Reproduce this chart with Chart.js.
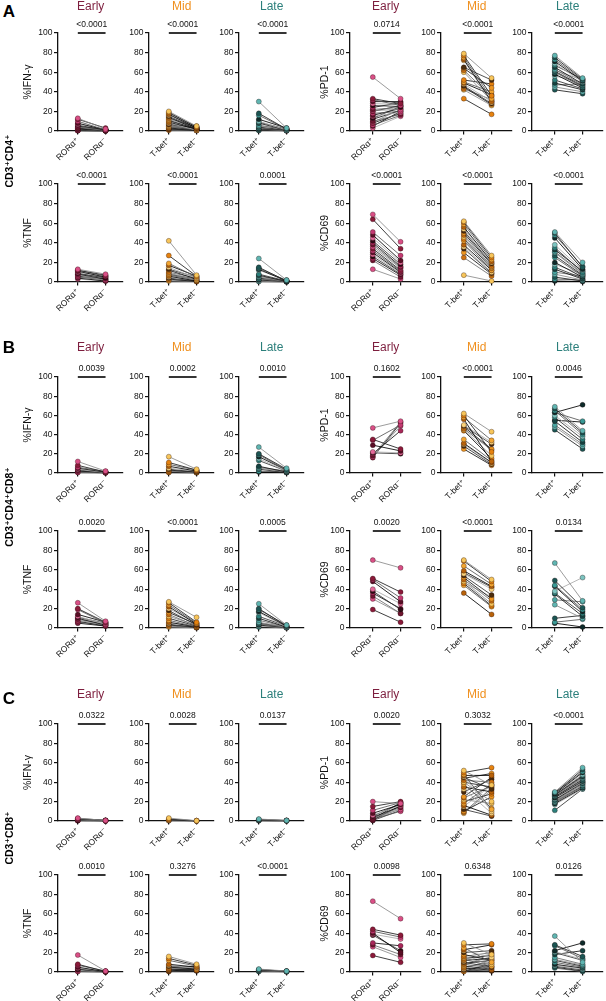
<!DOCTYPE html>
<html>
<head>
<meta charset="utf-8">
<script src="https://cdn.jsdelivr.net/npm/chart.js@4.4.1/dist/chart.umd.min.js"></script>
<style>
  body { margin: 0; background: #fff; }
  #fig { position: relative; width: 606px; height: 1001px; overflow: hidden; font-family: "Liberation Sans", Arial, "DejaVu Sans", sans-serif; color: #000; }
  #fig canvas { position: absolute; }
  .sec { position: absolute; font-weight: bold; font-size: 17px; transform: translate(-50%, -50%); }
  .cells { position: absolute; font-weight: bold; font-size: 10.5px; white-space: nowrap; transform: translate(-50%, -50%) rotate(-90deg); }
</style>
</head>
<body>
<div id="fig"></div>
<script>
// categories / labels
const stages = ['Early', 'Mid', 'Late'];
const rorCats = ['RORα⁺', 'RORα⁻'];
const tbetCats = ['T-bet⁺', 'T-bet⁻'];
const yTicks = [0, 20, 40, 60, 80, 100];
const leftMeasures = ['%IFN-γ', '%TNF'];
const rightMeasures = ['%PD-1', '%CD69'];
const sectionLetters = ['A', 'B', 'C'];
const sectionCells = ['CD3⁺CD4⁺', 'CD3⁺CD4⁺CD8⁺', 'CD3⁺CD8⁺'];

// p values, row by row (IFN early, mid, late, PD-1 early, mid, late, TNF..., CD69...)
const pA = ['<0.0001', '<0.0001', '<0.0001', '0.0714', '<0.0001', '<0.0001',
            '<0.0001', '<0.0001', '0.0001', '<0.0001', '<0.0001', '<0.0001'];
const pB = ['0.0039', '0.0002', '0.0010', '0.1602', '<0.0001', '0.0046',
            '0.0020', '<0.0001', '0.0005', '0.0020', '<0.0001', '0.0134'];
const pC = ['0.0322', '0.0028', '0.0137', '0.0020', '0.3032', '<0.0001',
            '0.0010', '0.3276', '<0.0001', '0.0098', '0.6348', '0.0126'];

// ---- A : CD3+CD4+ ----
const aIfnEarlyPos = [13, 12, 10, 8, 7, 6, 5, 4, 4, 3, 3, 2, 2, 2, 1, 1, 1, 0.5, 0.5, 0.3];
const aIfnEarlyNeg = [2, 3, 1, 1, 2, 1, 1.5, 0.5, 1, 0.5, 1, 0.5, 0.3, 1, 0.5, 0.3, 0.2, 0.3, 0.2, 0.1];
const aIfnMidPos = [20, 19, 18, 17, 16, 15, 14, 13, 12, 11, 10, 9, 8, 7, 7, 6, 5, 5, 4, 3, 3, 2, 2, 1, 1];
const aIfnMidNeg = [5, 4, 4, 3, 5, 3, 2, 4, 3, 2, 3, 2, 1, 2, 3, 1, 2, 1, 1, 1, 2, 1, 0.5, 0.5, 1];
const aIfnLatePos = [30, 18, 16, 12, 10, 9, 8, 6, 5, 4, 3, 2, 2, 1, 1, 0.5];
const aIfnLateNeg = [3, 2, 2, 3, 1, 2, 1, 1, 2, 1, 0.5, 1, 0.5, 0.5, 0.3, 0.2];
const aPd1EarlyPos = [55, 33, 32, 30, 28, 26, 24, 22, 21, 20, 18, 16, 15, 13, 12, 10, 9, 8, 6, 5, 3];
const aPd1EarlyNeg = [33, 28, 26, 30, 27, 25, 29, 24, 22, 26, 20, 23, 19, 25, 21, 17, 22, 18, 16, 20, 15];
const aPd1MidPos = [79, 77, 75, 73, 72, 65, 64, 62, 60, 52, 50, 49, 48, 46, 45, 43, 42, 33];
const aPd1MidNeg = [54, 36, 33, 30, 29, 52, 44, 35, 31, 48, 40, 37, 30, 28, 27, 32, 26, 17];
const aPd1LatePos = [77, 75, 73, 71, 69, 67, 65, 63, 62, 61, 60, 58, 56, 52, 49, 47, 45, 42];
const aPd1LateNeg = [54, 53, 52, 51, 50, 53, 48, 47, 52, 46, 45, 44, 50, 43, 42, 48, 40, 38];
const aTnfEarlyPos = [13, 12, 12, 11, 10, 9, 8, 8, 7, 6, 5, 4, 3];
const aTnfEarlyNeg = [8, 7, 6, 5, 6, 4, 3, 5, 2, 3, 2, 1, 1];
const aTnfMidPos = [42, 27, 19, 17, 15, 13, 12, 10, 9, 8, 7, 6, 5, 4, 3, 2, 1];
const aTnfMidNeg = [7, 6, 5, 6, 4, 5, 3, 4, 2, 3, 2, 1, 2, 1, 0.5, 1, 0.5];
const aTnfLatePos = [24, 15, 14, 13, 12, 8, 7, 6, 5, 4, 3, 2, 1, 0.5];
const aTnfLateNeg = [2, 1, 1.5, 1, 2, 1, 0.5, 1, 0.5, 1, 0.3, 0.5, 0.2, 0.2];
const aCd69EarlyPos = [69, 64, 51, 48, 45, 42, 40, 38, 36, 34, 32, 30, 28, 26, 24, 22, 13];
const aCd69EarlyNeg = [41, 34, 27, 22, 20, 18, 16, 15, 14, 12, 11, 10, 9, 8, 7, 5, 3];
const aCd69MidPos = [62, 61, 59, 56, 54, 52, 50, 48, 46, 44, 42, 38, 36, 34, 30, 25, 7];
const aCd69MidNeg = [27, 25, 23, 21, 20, 19, 18, 16, 15, 14, 12, 12, 10, 9, 8, 6, 1];
const aCd69LatePos = [51, 50, 48, 45, 38, 35, 33, 31, 30, 27, 25, 20, 18, 15, 13, 10, 8, 5, 3, 1];
const aCd69LateNeg = [20, 15, 16, 13, 12, 10, 11, 9, 8, 7, 6, 5, 8, 4, 3, 6, 2, 1, 2, 0.5];

// ---- B : CD3+CD4+CD8+ ----
const bIfnEarlyPos = [12, 8, 6, 5, 4, 3, 2, 2, 1, 1, 0.5];
const bIfnEarlyNeg = [2, 1, 1.5, 1, 0.5, 1, 0.5, 0.3, 0.5, 0.2, 0.2];
const bIfnMidPos = [17, 11, 9, 7, 5, 4, 3, 2, 2, 1, 1, 0.5];
const bIfnMidNeg = [4, 3, 3, 2, 2, 1, 1, 2, 0.5, 1, 0.5, 0.2];
const bIfnLatePos = [27, 20, 19, 17, 15, 13, 7, 6, 5, 4, 2, 1];
const bIfnLateNeg = [5, 4, 3, 3, 2, 2, 1, 2, 1, 0.5, 1, 0.5];
const bPd1EarlyPos = [47, 35, 34, 29, 22, 21, 20, 18, 17, 16];
const bPd1EarlyNeg = [54, 25, 50, 23, 21, 20, 44, 53, 49, 52];
const bPd1MidPos = [62, 60, 58, 56, 50, 49, 48, 46, 45, 44, 35, 31, 30, 28, 25];
const bPd1MidNeg = [43, 22, 34, 12, 32, 30, 25, 24, 18, 15, 13, 11, 10, 9, 8];
const bPd1LatePos = [69, 67, 65, 63, 60, 58, 54, 50, 48, 45, 63, 55];
const bPd1LateNeg = [44, 42, 40, 71, 38, 35, 32, 30, 28, 25, 54, 53];
const bTnfEarlyPos = [26, 20, 19, 14, 12, 11, 10, 9, 8, 7, 6, 5];
const bTnfEarlyNeg = [7, 6, 5, 6, 4, 5, 3, 4, 3, 2, 3, 2];
const bTnfMidPos = [27, 26, 24, 22, 20, 18, 16, 14, 12, 10, 8, 6, 5, 4, 3, 2, 1];
const bTnfMidNeg = [11, 6, 5, 4, 5, 3, 4, 2, 3, 2, 1, 1, 2, 0.5, 1, 0.5, 0.2];
const bTnfLatePos = [25, 20, 19, 17, 16, 12, 10, 8, 6, 5, 4, 3, 2, 1];
const bTnfLateNeg = [3, 2, 3, 2, 1, 2, 1, 1, 0.5, 1, 0.5, 0.5, 0.3, 0.2];
const bCd69EarlyPos = [70, 51, 50, 48, 40, 38, 36, 33, 30, 19];
const bCd69EarlyNeg = [62, 37, 31, 27, 25, 19, 20, 15, 15, 6];
const bCd69MidPos = [70, 69, 64, 59, 56, 54, 52, 50, 48, 46, 44, 36, 47, 57];
const bCd69MidNeg = [50, 48, 45, 43, 40, 34, 30, 28, 25, 23, 22, 14, 32, 42];
const bCd69LatePos = [67, 49, 44, 43, 38, 36, 35, 29, 24, 10, 6, 5];
const bCd69LateNeg = [28, 21, 19, 17, 52, 15, 12, 27, 10, 13, 9, 1];

// ---- C : CD3+CD8+ ----
const cIfnEarlyPos = [3, 2.5, 2, 2, 1.5, 1, 1, 0.5, 0.5, 0.3];
const cIfnEarlyNeg = [0.5, 0.8, 0.3, 0.6, 0.2, 0.4, 0.2, 0.3, 0.1, 0.1];
const cIfnMidPos = [3, 2, 1.5, 1, 0.5, 0.3];
const cIfnMidNeg = [0.3, 0.2, 0.3, 0.1, 0.2, 0.1];
const cIfnLatePos = [2, 1.5, 1.2, 1, 0.8, 0.5, 0.3];
const cIfnLateNeg = [0.6, 0.5, 0.4, 0.5, 0.3, 0.2, 0.1];
const cPd1EarlyPos = [20, 15, 11, 8, 6, 5, 4, 3, 3, 2, 2, 1, 1, 0.5];
const cPd1EarlyNeg = [18, 20, 19, 17, 16, 18, 15, 14, 12, 19, 10, 16, 13, 11];
const cPd1MidPos = [52, 50, 48, 47, 46, 45, 44, 42, 40, 40, 38, 35, 33, 30, 25, 24, 22, 20, 18, 16, 15, 12, 10, 9, 8];
const cPd1MidNeg = [37, 55, 12, 47, 10, 33, 49, 40, 20, 35, 13, 30, 8, 43, 45, 36, 18, 28, 38, 6, 37, 5, 25, 34, 32];
const cPd1LatePos = [30, 29, 29, 28, 28, 27, 27, 26, 26, 25, 25, 24, 23, 22, 22, 21, 20, 20, 19, 18, 17, 11];
const cPd1LateNeg = [55, 53, 51, 50, 48, 47, 46, 45, 44, 43, 42, 41, 40, 40, 39, 38, 37, 36, 35, 34, 33, 33];
const cTnfEarlyPos = [17.5, 8, 7, 5, 4, 3, 3, 2, 1, 0.5];
const cTnfEarlyNeg = [1, 0.5, 1, 0.3, 0.5, 0.2, 0.5, 0.3, 0.2, 0.1];
const cTnfMidPos = [16, 14, 12, 8, 7, 6, 5, 4, 4, 3, 3, 2, 2, 1, 1, 0.5];
const cTnfMidNeg = [8, 7, 6, 5, 4, 5, 3, 4, 6, 2, 3, 2, 4, 1, 3, 2];
const cTnfLatePos = [3, 2.5, 2, 2, 1.5, 1, 1, 0.5];
const cTnfLateNeg = [1, 0.8, 0.5, 1, 0.5, 0.3, 0.5, 0.2];
const cCd69EarlyPos = [73, 44, 42, 40, 39, 38, 30, 28, 26, 17];
const cCd69EarlyNeg = [55, 38, 36, 20, 34, 22, 27, 18, 15, 10];
const cCd69MidPos = [30, 28, 25, 23, 22, 20, 18, 16, 15, 14, 13, 12, 11, 10, 9, 8, 7, 6, 5, 4, 3, 2, 1, 0.5];
const cCd69MidNeg = [18, 29, 10, 28, 15, 22, 12, 20, 8, 17, 6, 14, 19, 5, 12, 4, 16, 3, 10, 2, 13, 1, 8, 6];
const cCd69LatePos = [37, 28, 27, 22, 21, 20, 18, 15, 13, 12, 10, 8, 7, 6, 5, 4];
const cCd69LateNeg = [10, 16, 14, 30, 13, 12, 22, 8, 7, 6, 5, 4, 3, 2, 1, 0.5];

// panel grids, [section][row][col] -> [pos, neg]
const grids = [
  [
    [[aIfnEarlyPos, aIfnEarlyNeg], [aIfnMidPos, aIfnMidNeg], [aIfnLatePos, aIfnLateNeg],
     [aPd1EarlyPos, aPd1EarlyNeg], [aPd1MidPos, aPd1MidNeg], [aPd1LatePos, aPd1LateNeg]],
    [[aTnfEarlyPos, aTnfEarlyNeg], [aTnfMidPos, aTnfMidNeg], [aTnfLatePos, aTnfLateNeg],
     [aCd69EarlyPos, aCd69EarlyNeg], [aCd69MidPos, aCd69MidNeg], [aCd69LatePos, aCd69LateNeg]]
  ],
  [
    [[bIfnEarlyPos, bIfnEarlyNeg], [bIfnMidPos, bIfnMidNeg], [bIfnLatePos, bIfnLateNeg],
     [bPd1EarlyPos, bPd1EarlyNeg], [bPd1MidPos, bPd1MidNeg], [bPd1LatePos, bPd1LateNeg]],
    [[bTnfEarlyPos, bTnfEarlyNeg], [bTnfMidPos, bTnfMidNeg], [bTnfLatePos, bTnfLateNeg],
     [bCd69EarlyPos, bCd69EarlyNeg], [bCd69MidPos, bCd69MidNeg], [bCd69LatePos, bCd69LateNeg]]
  ],
  [
    [[cIfnEarlyPos, cIfnEarlyNeg], [cIfnMidPos, cIfnMidNeg], [cIfnLatePos, cIfnLateNeg],
     [cPd1EarlyPos, cPd1EarlyNeg], [cPd1MidPos, cPd1MidNeg], [cPd1LatePos, cPd1LateNeg]],
    [[cTnfEarlyPos, cTnfEarlyNeg], [cTnfMidPos, cTnfMidNeg], [cTnfLatePos, cTnfLateNeg],
     [cCd69EarlyPos, cCd69EarlyNeg], [cCd69MidPos, cCd69MidNeg], [cCd69LatePos, cCd69LateNeg]]
  ]
];
const pvals = [pA, pB, pC];

// layout (px in the page)
const colAxisX = [58, 149, 239, 350, 441, 532];
const rowTop = [[33, 184], [377, 531], [724, 875]];
const rowH = [[98, 98], [96, 97], [97, 97]];
const stageGap = [26, 29, 29];
const secLabelPos = [[9, 12], [9, 348], [9, 699]];
const cellLabelY = [161, 507, 838];

// styling
const stageColors = ['#7d1e3e', '#f0901e', '#2b7f7b'];
const pointPalettes = [
  ['#d94f86', '#8b1a3a', '#c43a72', '#5a0e26', '#e46a9a', '#2e0a14', '#a8285a', '#701530'],
  ['#f7c55a', '#e5820f', '#f2a531', '#b8620a', '#fad27a', '#4a2c0c', '#ee9722', '#d07210'],
  ['#5fb5b1', '#1b5654', '#3a9a96', '#0e2b2a', '#7cc4c0', '#2b7f7b', '#144341', '#4aa6a2']
];
const lineShades = ['#8a8a8a', '#1e1e1e', '#555555', '#000000', '#aaaaaa', '#333333', '#111111', '#6a6a6a'];
const FONT = '"Liberation Sans", Arial, "DejaVu Sans", sans-serif';

Chart.defaults.font.family = FONT;
Chart.defaults.color = '#111';

const annotate = {
  id: 'annotate',
  afterDraw(chart, args, o) {
    const { ctx, scales: { x, y } } = chart;
    const x0 = x.getPixelForValue(0), x1 = x.getPixelForValue(1);
    const top = y.getPixelForValue(100);
    ctx.save();
    ctx.strokeStyle = '#111';
    ctx.lineWidth = 1.7;
    ctx.beginPath();
    ctx.moveTo(x0, top);
    ctx.lineTo(x1, top);
    ctx.stroke();
    ctx.fillStyle = '#111';
    ctx.textAlign = 'center';
    ctx.textBaseline = 'middle';
    ctx.font = '8.5px ' + FONT;
    ctx.fillText(o.p, (x0 + x1) / 2, top - 8.5);
    if (o.stage) {
      ctx.fillStyle = o.color;
      ctx.font = '12px ' + FONT;
      ctx.fillText(o.stage, (x0 + x1) / 2 - 1, top - o.gap);
    }
    ctx.restore();
  }
};
Chart.register(annotate);

const fig = document.getElementById('fig');

function makePanel(sec, row, col) {
  const half = col < 3 ? 0 : 1;
  const st = col % 3;
  const first = st === 0;
  const [pos, neg] = grids[sec][row][col];
  const yw = first ? (half ? 31 : 36) : 22;
  const axLen = half ? 71 : 65;
  const xmin = half ? -0.821 : -0.714;
  const xmax = half ? 1.714 : 1.607;
  const TOP = 40, XH = 38, RP = 4;
  const h = rowH[sec][row];

  const cv = document.createElement('canvas');
  cv.width = yw + axLen + RP;
  cv.height = TOP + h + XH;
  cv.style.left = (colAxisX[col] - yw) + 'px';
  cv.style.top = (rowTop[sec][row] - TOP) + 'px';
  fig.appendChild(cv);

  const cats = st === 0 ? rorCats : tbetCats;
  const pal = pointPalettes[st];
  const measure = half ? rightMeasures[row] : leftMeasures[row];

  const datasets = pos.map((v, i) => ({
    data: [{ x: 0, y: v }, { x: 1, y: neg[i] }],
    showLine: true,
    borderColor: lineShades[i % lineShades.length],
    borderWidth: 0.85,
    pointRadius: 2.5,
    pointBackgroundColor: pal[i % pal.length],
    pointBorderColor: 'rgba(30,10,10,0.55)',
    pointBorderWidth: 0.6,
    clip: false
  }));

  new Chart(cv, {
    type: 'scatter',
    data: { datasets },
    options: {
      responsive: false,
      animation: false,
      layout: { padding: { top: TOP, right: RP, left: 0, bottom: 0 } },
      plugins: {
        legend: { display: false },
        tooltip: { enabled: false },
        annotate: {
          p: pvals[sec][row * 6 + col],
          stage: row === 0 ? stages[st] : null,
          color: stageColors[st],
          gap: stageGap[sec]
        }
      },
      scales: {
        x: {
          type: 'linear',
          min: xmin,
          max: xmax,
          afterBuildTicks: s => { s.ticks = [{ value: 0 }, { value: 1 }]; },
          ticks: {
            callback: v => cats[v],
            autoSkip: false,
            maxRotation: 45,
            minRotation: 45,
            padding: 1,
            font: { size: 8.5 },
            color: '#111'
          },
          grid: { drawOnChartArea: false, tickLength: 3.5, color: '#111', lineWidth: 1.2 },
          border: { color: '#111', width: 1.3 },
          afterFit: s => { s.height = XH; }
        },
        y: {
          min: 0,
          max: 100,
          afterBuildTicks: s => { s.ticks = yTicks.map(v => ({ value: v })); },
          ticks: { padding: 1.5, font: { size: 8.5 }, color: '#111' },
          grid: { drawOnChartArea: false, tickLength: 4, color: '#111', lineWidth: 1.2 },
          border: { color: '#111', width: 1.3 },
          title: { display: first, text: measure, padding: 0, font: { size: 10.5 }, color: '#111' },
          afterFit: s => { s.width = yw; }
        }
      }
    }
  });
}

for (let s = 0; s < 3; s++) {
  for (let r = 0; r < 2; r++) {
    for (let c = 0; c < 6; c++) makePanel(s, r, c);
  }
  const L = document.createElement('div');
  L.className = 'sec';
  L.textContent = sectionLetters[s];
  L.style.left = secLabelPos[s][0] + 'px';
  L.style.top = secLabelPos[s][1] + 'px';
  fig.appendChild(L);
  const C = document.createElement('div');
  C.className = 'cells';
  C.textContent = sectionCells[s];
  C.style.left = '9px';
  C.style.top = cellLabelY[s] + 'px';
  fig.appendChild(C);
}
</script>
</body>
</html>
